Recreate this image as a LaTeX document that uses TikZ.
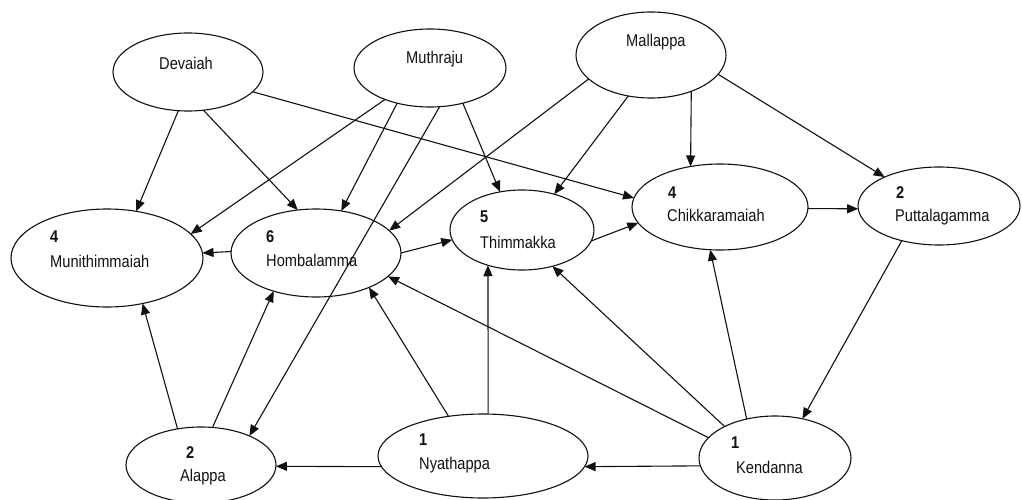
\documentclass[tikz,border=0pt]{standalone}
\usepackage{fontspec}
\newfontfamily\lblfont{Liberation Sans}[FakeStretch=0.86]
\usetikzlibrary{arrows.meta,shapes.geometric}
\definecolor{ink}{HTML}{111111}
\tikzset{
  person/.style={ellipse, draw=ink, line width=1.1pt, inner sep=0pt, outer sep=0pt},
  pname/.style={font=\lblfont\fontsize{17pt}{19pt}\selectfont, text=ink, inner sep=0pt, anchor=west},
  pcount/.style={font=\lblfont\fontsize{17pt}{19pt}\selectfont\bfseries, text=ink, inner sep=0pt, anchor=west},
  link/.style={draw=ink, line width=1.1pt, -{Triangle[length=11pt,width=9pt]}}
}
\begin{document}
\begin{tikzpicture}[x=1pt,y=-1pt]
\useasboundingbox[fill=white] (0,0) rectangle (1022,500);

% people
\node[person, minimum width=150pt, minimum height=78pt] (dev) at (188,72) {};
\node[person, minimum width=152pt, minimum height=78pt] (mut) at (430,68) {};
\node[person, minimum width=150pt, minimum height=86pt] (mal) at (651,55) {};
\node[person, minimum width=192pt, minimum height=98pt] (mun) at (107,258) {};
\node[person, minimum width=170pt, minimum height=88pt] (hom) at (316,253) {};
\node[person, minimum width=144pt, minimum height=80pt] (thi) at (522,230) {};
\node[person, minimum width=176pt, minimum height=86pt] (chi) at (720,207) {};
\node[person, minimum width=162pt, minimum height=78pt] (put) at (939,206) {};
\node[person, minimum width=150pt, minimum height=76pt] (ala) at (201,465) {};
\node[person, minimum width=210pt, minimum height=84pt] (nya) at (483,456) {};
\node[person, minimum width=152pt, minimum height=84pt] (ken) at (775,458) {};

% labels
\node[pname] (dev-t) at (159,63) {Devaiah};
\node[pname] (mut-t) at (406,59) {Muthraju};
\node[pname] (mal-t) at (626,42) {Mallappa};
\node[pcount] (mun-n) at (50,237) {4};
\node[pname] (mun-t) at (50,261) {Munithimmaiah};
\node[pcount] (hom-n) at (266,237) {6};
\node[pname] (hom-t) at (266,260) {Hombalamma};
\node[pcount] (thi-n) at (480,217) {5};
\node[pname] (thi-t) at (480,242) {Thimmakka};
\node[pcount] (chi-n) at (668,193) {4};
\node[pname] (chi-t) at (667,215) {Chikkaramaiah};
\node[pcount] (put-n) at (896,193) {2};
\node[pname] (put-t) at (895,217) {Puttalagamma};
\node[pcount] (ala-n) at (186,453) {2};
\node[pname] (ala-t) at (180,477) {Alappa};
\node[pcount] (nya-n) at (419,440) {1};
\node[pname] (nya-t) at (419,465) {Nyathappa};
\node[pcount] (ken-n) at (731,443) {1};
\node[pname] (ken-t) at (736,467) {Kendanna};

% links
\draw[link] (dev.-104)   -- (mun.58);
\draw[link] (dev.-68)    -- (hom.113);
\draw[link] (dev.-17)    -- (chi.174);
\draw[link] (mut.-145)   -- (mun.16);
\draw[link] (mut.-133)   -- (hom.59);
\draw[link] (mut.-76)    -- (ala.31);
\draw[link] (mut.-47.5)  -- (thi.120);
\draw[link] (mal.-159)   -- (hom.17);
\draw[link] (mal.-119)   -- (thi.48);
\draw[link] (mal.-42.6)  -- (chi.126.4);
\draw[link] (mal.-16)    -- (put.152);
\draw[link] (chi.-1.3)   -- (put.182);
\draw[link] (thi.-9.7)   -- (chi.191);
\draw[link] (hom.0.7)    -- (thi.188);
\draw[link] (hom.179.3)  -- (mun.3.6);
\draw[link] (ala.123)    -- (mun.-52);
\draw[link] (ala.73.4)   -- (hom.-138.4);
\draw[link] (nya.186.1)  -- (ala.-1.5);
\draw[link] (nya.131.2)  -- (hom.-33.7);
\draw[link] (nya.83.2)   -- (thi.-134);
\draw[link] (ken.163.4)  -- (hom.-18.7);
\draw[link] (ken.148.2)  -- (thi.-50.8);
\draw[link] (ken.126.4)  -- (chi.-103.4);
\draw[link] (put.-137.3) -- (ken.55);
\draw[link] (ken.186.8)  -- (nya.-6);
\end{tikzpicture}
\end{document}
